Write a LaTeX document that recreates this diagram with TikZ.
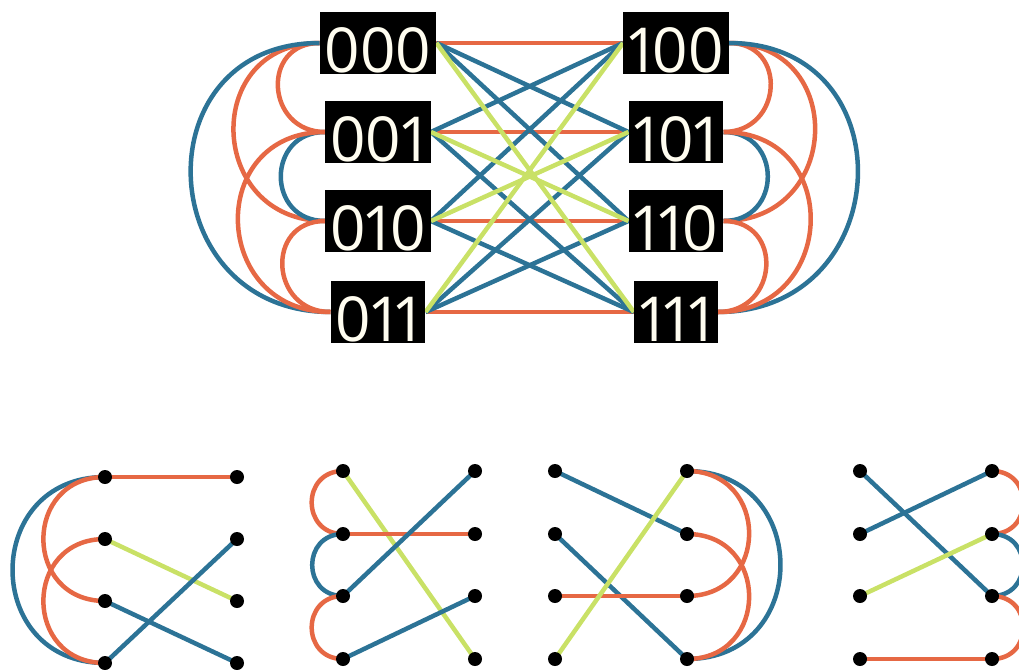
\documentclass[tikz,border=0pt]{standalone}
\usepackage{fontspec}
\setmainfont{Open Sans}[Numbers=Proportional]
\definecolor{cOrange}{RGB}{230,104,68}
\definecolor{cBlue}{RGB}{44,115,150}
\definecolor{cGreen}{RGB}{201,225,102}
\definecolor{cCream}{RGB}{255,253,240}
\pgfdeclarelayer{bg}
\pgfsetlayers{bg,main}

\begin{document}
\begin{tikzpicture}[
    x=1pt,y=-1pt,
    box/.style={fill=black,text=cCream,inner xsep=5pt,inner ysep=2pt,
      text height=58pt,text depth=0pt,font=\fontsize{62}{62}\selectfont},
    dot/.style={circle,fill,inner sep=0pt,minimum size=14pt},
    oline/.style={line width=4.5pt,cOrange},
    bline/.style={line width=4.5pt,cBlue},
    gline/.style={line width=4.5pt,cGreen},
    arcl/.style={out=180,in=180,looseness=1.7},
    arcr/.style={out=0,in=0,looseness=1.7}
    ]
    \useasboundingbox (0,0) rectangle (1019,669);
    % labelled vertices
    \node[box] (n000) at (378,43) {000};
    \node[box] (n001) at (378,132) {001};
    \node[box] (n010) at (378,221) {010};
    \node[box] (n011) at (378,312) {011};
    \node[box] (n100) at (676,43) {100};
    \node[box] (n101) at (676,132) {101};
    \node[box] (n110) at (676,221) {110};
    \node[box] (n111) at (676,312) {111};
    % small panels
    \node[dot] (a0) at (105,477) {};
    \node[dot] (a1) at (105,539) {};
    \node[dot] (a2) at (105,601) {};
    \node[dot] (a3) at (105,663) {};
    \node[dot] (b0) at (237,477) {};
    \node[dot] (b1) at (237,539) {};
    \node[dot] (b2) at (237,601) {};
    \node[dot] (b3) at (237,663) {};
    \node[dot] (c0) at (343,471) {};
    \node[dot] (c1) at (343,534) {};
    \node[dot] (c2) at (343,596) {};
    \node[dot] (c3) at (343,659) {};
    \node[dot] (d0) at (475,471) {};
    \node[dot] (d1) at (475,534) {};
    \node[dot] (d2) at (475,596) {};
    \node[dot] (d3) at (475,659) {};
    \node[dot] (e0) at (555,471) {};
    \node[dot] (e1) at (555,534) {};
    \node[dot] (e2) at (555,596) {};
    \node[dot] (e3) at (555,659) {};
    \node[dot] (f0) at (687,471) {};
    \node[dot] (f1) at (687,534) {};
    \node[dot] (f2) at (687,596) {};
    \node[dot] (f3) at (687,659) {};
    \node[dot] (g0) at (860,471) {};
    \node[dot] (g1) at (860,534) {};
    \node[dot] (g2) at (860,596) {};
    \node[dot] (g3) at (860,659) {};
    \node[dot] (h0) at (992,471) {};
    \node[dot] (h1) at (992,534) {};
    \node[dot] (h2) at (992,596) {};
    \node[dot] (h3) at (992,659) {};
    \begin{pgfonlayer}{bg}
      \clip (0,0) rectangle (1019,669);
      % straight edges
      \draw[oline] (n000.east) -- (n100.west);
      \draw[oline] (n001.east) -- (n101.west);
      \draw[oline] (n010.east) -- (n110.west);
      \draw[oline] (n011.east) -- (n111.west);
      \draw[bline] (n000.east) -- (n101.west);
      \draw[bline] (n000.east) -- (n110.west);
      \draw[bline] (n001.east) -- (n100.west);
      \draw[bline] (n001.east) -- (n111.west);
      \draw[bline] (n010.east) -- (n100.west);
      \draw[bline] (n010.east) -- (n111.west);
      \draw[bline] (n011.east) -- (n101.west);
      \draw[bline] (n011.east) -- (n110.west);
      \draw[gline] (n000.east) -- (n111.west);
      \draw[gline] (n001.east) -- (n110.west);
      \draw[gline] (n010.east) -- (n101.west);
      \draw[gline] (n011.east) -- (n100.west);
      % arcs on the left
      \draw[oline] (n000.west) to[arcl] (n001.west);
      \draw[oline] (n000.west) to[arcl] (n010.west);
      \draw[bline] (n000.west) to[arcl] (n011.west);
      \draw[bline] (n001.west) to[arcl] (n010.west);
      \draw[oline] (n001.west) to[arcl] (n011.west);
      \draw[oline] (n010.west) to[arcl] (n011.west);
      % arcs on the right
      \draw[oline] (n100.east) to[arcr] (n101.east);
      \draw[oline] (n100.east) to[arcr] (n110.east);
      \draw[bline] (n100.east) to[arcr] (n111.east);
      \draw[bline] (n101.east) to[arcr] (n110.east);
      \draw[oline] (n101.east) to[arcr] (n111.east);
      \draw[oline] (n110.east) to[arcr] (n111.east);
      % panel 1
      \draw[oline] (a0.center) -- (b0.center);
      \draw[gline] (a1.center) -- (b2.center);
      \draw[bline] (a2.center) -- (b3.center);
      \draw[bline] (a3.center) -- (b1.center);
      \draw[bline] (a0.center) to[arcl] (a3.center);
      \draw[oline] (a0.center) to[arcl] (a2.center);
      \draw[oline] (a1.center) to[arcl] (a3.center);
      % panel 2
      \draw[gline] (c0.center) -- (d3.center);
      \draw[oline] (c1.center) -- (d1.center);
      \draw[bline] (c2.center) -- (d0.center);
      \draw[bline] (c3.center) -- (d2.center);
      \draw[oline] (c0.center) to[arcl] (c1.center);
      \draw[bline] (c1.center) to[arcl] (c2.center);
      \draw[oline] (c2.center) to[arcl] (c3.center);
      % panel 3
      \draw[bline] (e0.center) -- (f1.center);
      \draw[bline] (e1.center) -- (f3.center);
      \draw[oline] (e2.center) -- (f2.center);
      \draw[gline] (e3.center) -- (f0.center);
      \draw[bline] (f0.center) to[arcr] (f3.center);
      \draw[oline] (f0.center) to[arcr] (f2.center);
      \draw[oline] (f1.center) to[arcr] (f3.center);
      % panel 4
      \draw[bline] (g0.center) -- (h2.center);
      \draw[bline] (g1.center) -- (h0.center);
      \draw[gline] (g2.center) -- (h1.center);
      \draw[oline] (g3.center) -- (h3.center);
      \draw[oline] (h0.center) to[arcr] (h1.center);
      \draw[bline] (h1.center) to[arcr] (h2.center);
      \draw[oline] (h2.center) to[arcr] (h3.center);
    \end{pgfonlayer}
  \end{tikzpicture}
\end{document}
